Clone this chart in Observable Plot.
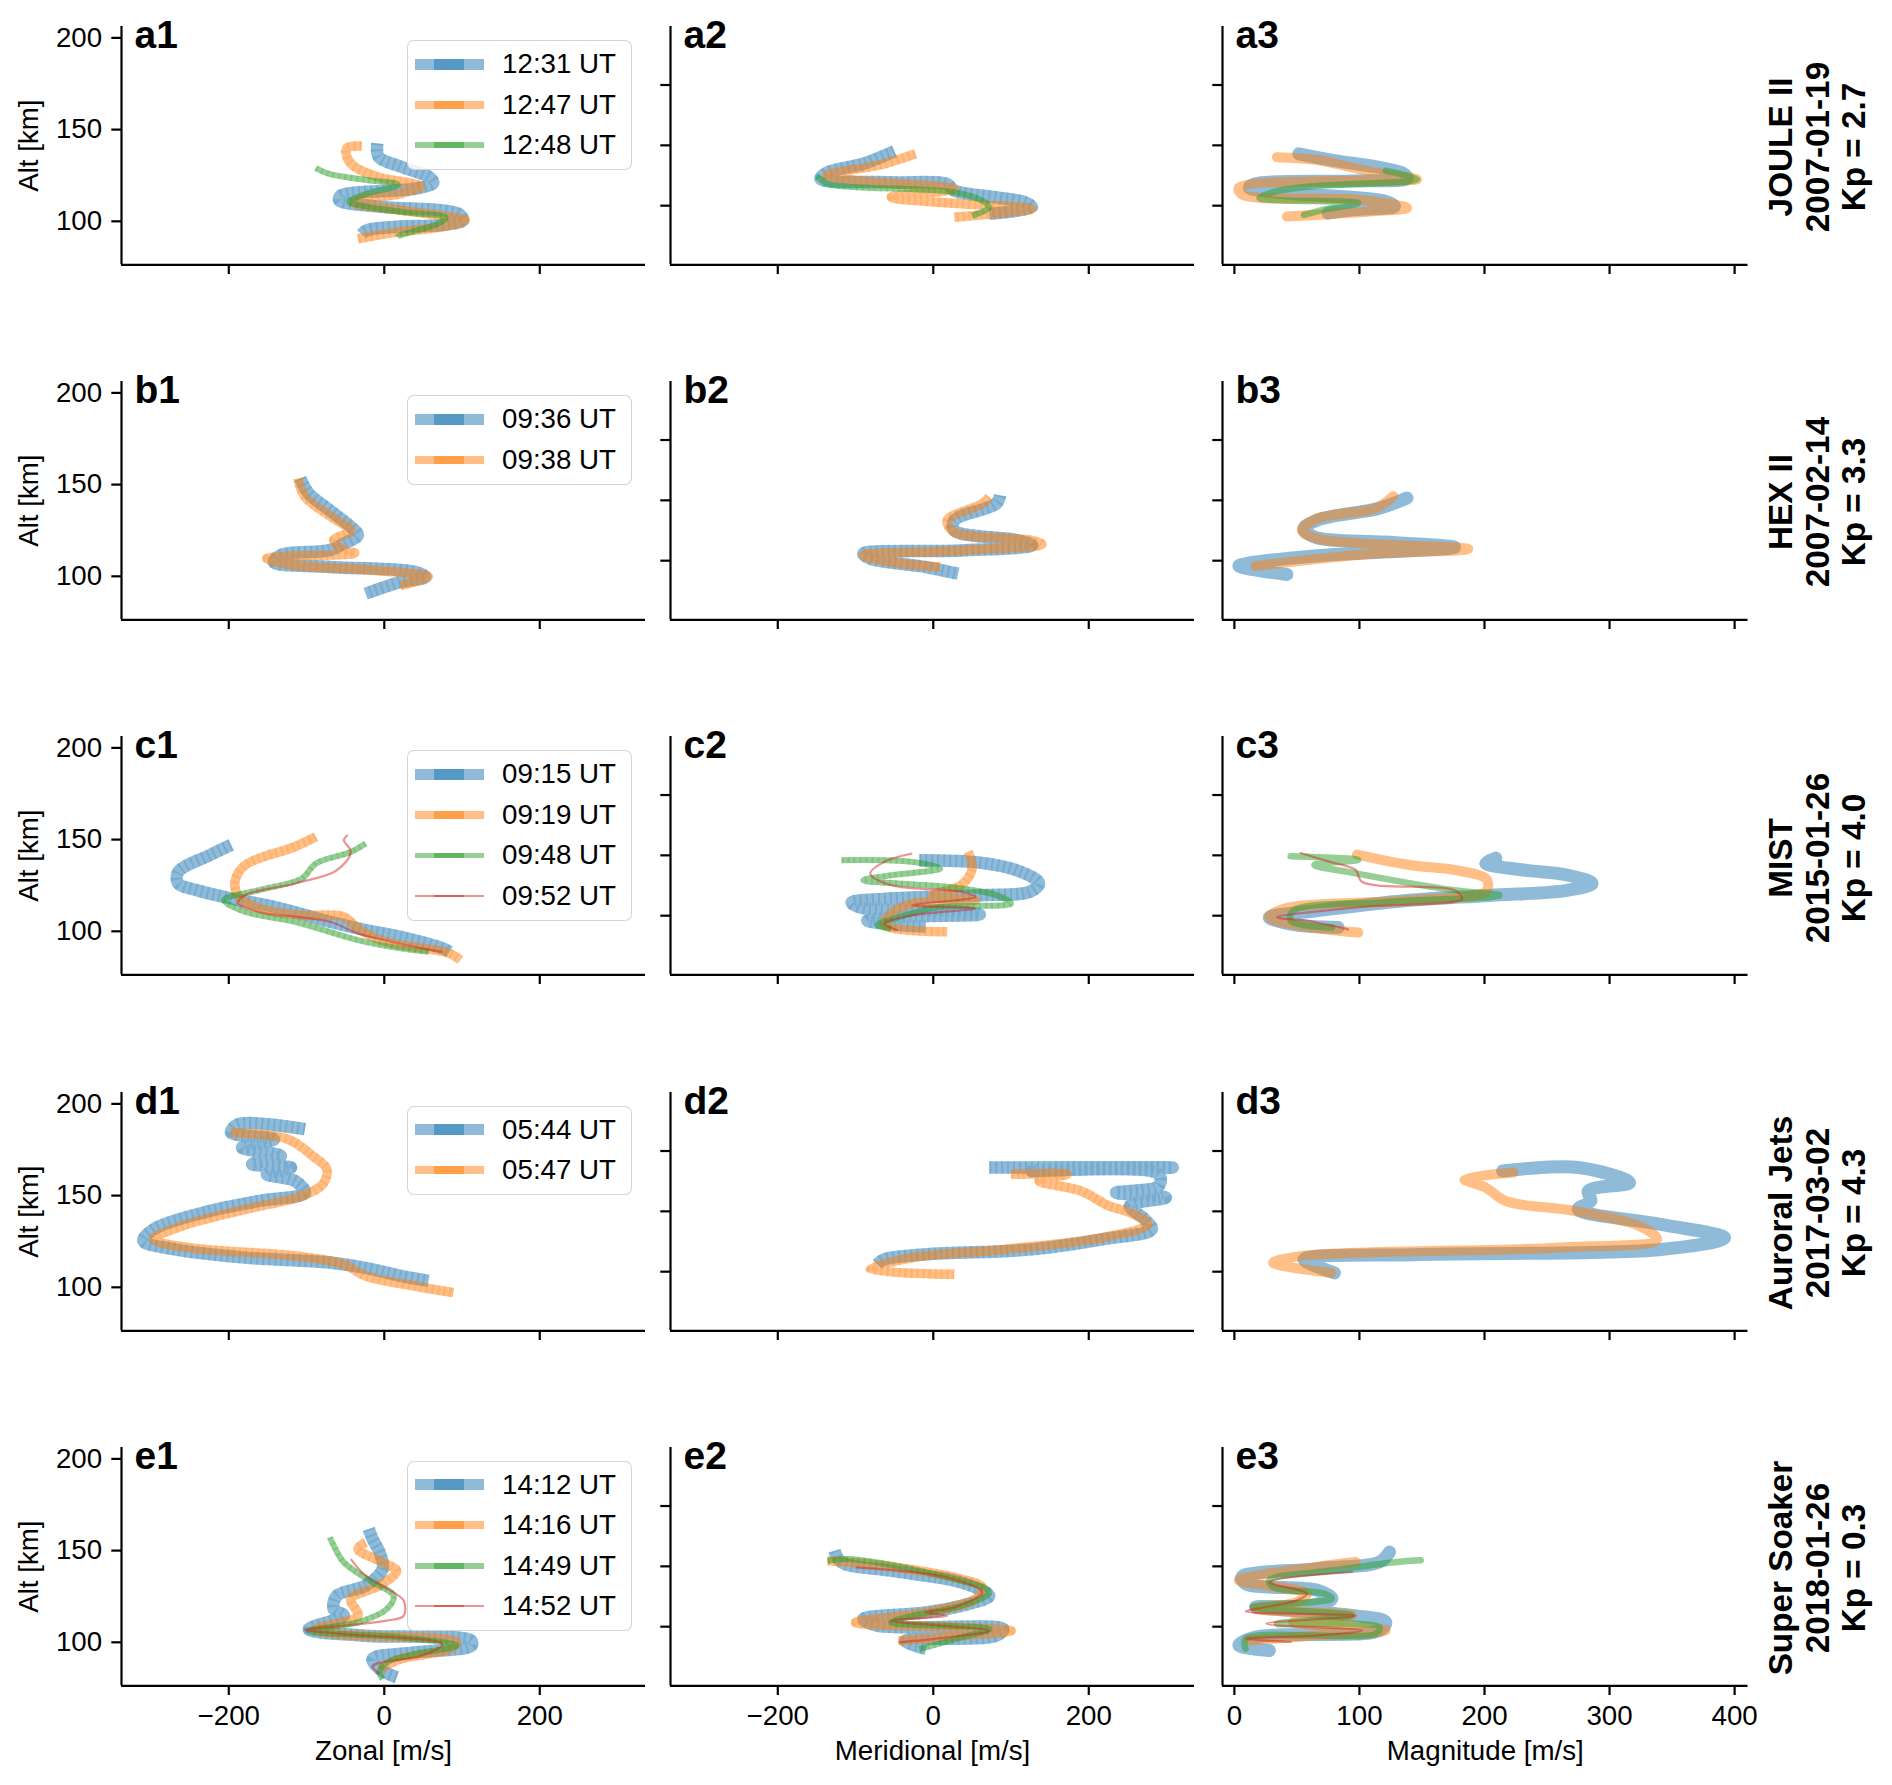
<!DOCTYPE html>
<html><head><meta charset="utf-8">
<script src="https://cdn.jsdelivr.net/npm/d3@7"></script>
<script src="https://cdn.jsdelivr.net/npm/@observablehq/plot@0.6"></script>
<style>
html,body{margin:0;padding:0;background:#fff;}
#fig{position:relative;width:1892px;height:1785px;overflow:hidden;font-family:"Liberation Sans",Arial,Helvetica,sans-serif;color:#000;background:#fff;}
.pnl{position:absolute;}
.pnl svg{display:block;max-width:none;overflow:visible;background:transparent;}
.leg{position:absolute;box-sizing:border-box;border:1.6px solid rgba(204,204,204,0.85);border-radius:7px;background:rgba(255,255,255,0.85);}
.leg .sw{position:absolute;}
.leg .lt{position:absolute;font-size:27.7px;line-height:28px;white-space:nowrap;}
.rl{position:absolute;font-weight:bold;font-size:33.3px;line-height:36.7px;text-align:center;white-space:nowrap;transform:translate(-50%,-50%) rotate(-90deg);}
</style></head><body><div id="fig"></div>
<script>
// ---------------- Row a : JOULE II ----------------
const a_1231_zonal = [-9,-7,20,58,63,42,-56,-58,-7,96,101,74,15,-23,-29];
const a_1231_zonalAlt = [142.5,135,130,124,121,118,114,111.5,108,104,100.5,98,97,95,93];
const a_1247_zonal = [-29,-48,-48,-39,-7,36,47,20,-34,-39,4,74,104,74,15,-34];
const a_1247_zonalAlt = [141,140,135,130,124,120.6,119,115,111.5,110,107,103,100.5,97,94,90.5];
const a_1248_zonal = [-88,-72,-23,15,17,-23,-45,-23,25,79,69,42,20,17];
const a_1248_zonalAlt = [129,126,122.5,120.6,119.7,115,110.6,108,105,102,98.7,95,92.3,91.4];
const a_1231_merid = [-50,-90,-136,-145,-54,18,27,80,118,127,72];
const a_1231_meridAlt = [145.1,134.7,127.7,122.2,119.4,118,112.5,107,102.8,98.7,93.2];
const a_1247_merid = [-23,-63,-136,-100,27,-54,36,127,27];
const a_1247_meridAlt = [143,134.7,125,120.8,113.9,107,101.5,97.4,90.4];
const a_1248_merid = [-150,-145,-136,27,63,72,50];
const a_1248_meridAlt = [124,122.2,118,111.1,104.2,98.7,91.8];
const a_1231_mag = [51.5,80,116,135,138,94,17,12,39,121,128,94,75];
const a_1231_magAlt = [143,137.4,131.7,126.7,122.7,120.5,118.2,114.9,110.7,103.6,99.4,96.6,93.8];
const a_1247_mag = [34,66.6,94,127,146,3.6,6,99,138,108,42];
const a_1247_magAlt = [140.2,137.9,131.7,124.7,121.9,114.9,109.3,105,98,95.2,91];
const a_1248_mag = [121,146,66.6,34,20,99,75,55.6];
const a_1248_magAlt = [128.9,121.9,116.3,112,106.4,102.2,97.5,92.4];

// ---------------- Row b : HEX II ----------------
const b_0936_zonal = [-108,-97,-70,-43,-34,-52,-70,-133,-142,-70,39,53,21,-24];
const b_0936_zonalAlt = [153.3,145.1,136,127,122.4,117.9,114.3,111.6,107.8,105.1,102.4,99.6,96.9,90.5];
const b_0938_zonal = [-111,-102,-61,-43,-65,-52,-38,-151,-116,-15,57,21];
const b_0938_zonalAlt = [153.3,143.3,130.5,125,119.6,114.3,112.6,109.7,106,103.3,99.6,95];
const b_0936_merid = [86,81,27,27,109,127,36,-90,-81,-9,32];
const b_0936_meridAlt = [154.1,147.3,133.4,125.1,116.8,112.7,108.5,105.8,101.7,94.7,89.2];
const b_0938_merid = [72,63,18,27,127,140,36,-90,-54,9];
const b_0938_meridAlt = [152.7,147.3,133.4,123.7,116.8,113.5,108.5,104.4,98.8,94.7];
const b_0936_mag = [138,116,66.6,55.6,64,121,176,116,66.6,3.6,42];
const b_0936_magAlt = [152,143.5,133.7,126.6,119.6,115.4,111.1,106.9,104.1,95.6,88.6];
const b_0938_mag = [127,113,66.6,54,66.6,187,108,17];
const b_0938_magAlt = [153.4,143.5,135,125.2,118.2,109.7,105.5,95.6];

// ---------------- Row c : MIST ----------------
const c_0915_zonal = [-197,-224,-265,-265,-242,-197,-142,-70,-24,21,75,84];
const c_0915_zonalAlt = [147.1,141.6,132.4,126.1,122.5,117.9,113.4,105.2,100.7,97,90.7,88.8];
const c_0919_zonal = [-88,-115,-179,-192,-188,-161,-106,-52,-34,2,84,98];
const c_0919_zonalAlt = [151.5,146.1,136.1,127,119.7,112.5,108.8,107.9,101.6,94.3,88,84.3];
const c_0948_zonal = [-24,-43,-88,-106,-161,-206,-179,-115,-34,21,57];
const c_0948_zonalAlt = [147.9,143.3,137,128.8,122.5,117,110.7,105.2,95.2,90.7,88.8];
const c_0952_zonal = [-47,-52,-43,-61,-115,-179,-188,-161,-70,-34,39,75];
const c_0952_zonalAlt = [152.5,149.7,143.3,133.3,126.1,119.7,115.2,110.7,105.2,98.9,91.5,88.8];
const c_0915_merid = [-18,60,110,136,125,60,-60,-105,-95,20,60,-40,-85,-60,-10];
const c_0915_meridAlt = [146,144,137,127,120,117,114,111,107,104,101,99,96,93,91];
const c_0919_merid = [45,50,36,0,54,-27,-54,-63,18];
const c_0919_meridAlt = [152.9,139.1,125.3,117,112.8,110.1,101.8,92.1,86.6];
const c_0948_merid = [-118,-27,9,-54,-90,18,81,100,9,-36,-72,-54];
const c_0948_meridAlt = [146,144.6,139.1,133.5,129.4,123.9,117,110.1,107.3,100.4,92.1,89.3];
const c_0952_merid = [-27,-63,-81,-54,36,54,-27,54,-27,-63,-45];
const c_0952_meridAlt = [151.5,144.6,134.9,125.3,119.7,115.6,108.7,105.9,100.4,93.5,87.9];
const c_0915_mag = [209,201,231,266,286,266,204,138,66.6,28,45,83];
const c_0915_magAlt = [147.8,143.5,137.9,133.7,126.7,121,116.8,112.6,104.2,98.6,93,90.1];
const c_0919_mag = [98,140,176,201,203,201,138,39,28,53,99];
const c_0919_magAlt = [150.6,142,137.9,130.9,125,119.7,112.6,105.6,98.6,91.6,86];
const c_0948_mag = [45,99,64,97,176,212,121,47,45,78];
const c_0948_magAlt = [149.2,146.3,142.1,135.1,121,116.8,111.2,104.2,95.8,90.1];
const c_0952_mag = [53,75,97,102,176,182,99,34,58,91];
const c_0952_magAlt = [152,145,137.9,128.1,121,114,107,98.6,95.8,88.7];

// ---------------- Row d : Auroral Jets ----------------
const d_0544_zonal = [-102,-188,-197,-142,-183,-133,-170,-120,-151,-115,-102,-161,-233,-297,-310,-269,-179,-70,-15,21,57];
const d_0544_zonalAlt = [186.2,188.9,184.4,180.7,176.2,171.6,167.1,165.3,161.6,158,151.6,147.1,140.7,131.6,125.3,120.7,116.2,113.5,109.8,106.2,103.5];
const d_0547_zonal = [-197,-124,-92,-74,-79,-106,-179,-260,-297,-251,-115,-52,-24,39,89];
const d_0547_zonalAlt = [184.4,180.7,171.6,164.4,156.2,149.8,142.5,133.4,126.2,121.6,117.1,112.5,106.2,100.7,97.1];
const d_0544_merid = [72,308,127,290,290,235,299,253,272,281,217,127,-9,-63,-72];
const d_0544_meridAlt = [186.3,186.3,183.5,180.7,171.1,165.5,161.4,154.5,143.4,135.1,126.8,118.5,114.4,110.3,106.1];
const d_0547_merid = [100,172,136,190,226,253,276,217,91,-27,-81,27];
const d_0547_meridAlt = [180.7,180.7,175.2,166.9,154.5,149,139.3,128.2,118.5,111.6,102,97.8];
const d_0544_mag = [214.5,275,316,283,285,275,341,392,341,149,55.6,80];
const d_0544_magAlt = [183.5,186.3,173.8,166.9,158.6,151.7,139.2,128.1,118.4,114.3,110.1,99];
const d_0547_mag = [223,184,201,217,272,324,338,258,53,31,77.5];
const d_0547_magAlt = [182.1,176.6,169.7,158.6,150.3,137.8,126.7,119.8,112.9,107.3,99];

// ---------------- Row e : Super Soaker ----------------
const e_1412_zonal = [-20,-15,-6,-2,-24,-61,-65,-52,-97,-24,112,112,39,-15,-6,16];
const e_1412_zonalAlt = [161.8,156.3,149,140,130.9,125.4,118.1,114.5,107.2,103.6,100.9,98.1,94.5,90.9,85.4,80.9];
const e_1416_zonal = [-24,-34,-2,16,-6,-43,-34,-88,-61,93,84,21,-6];
const e_1416_zonalAlt = [154.5,150.9,143.6,139,130.9,123.6,114.5,107.2,104.5,100,96.3,90.9,85.4];
const e_1449_zonal = [-70,-65,-52,-15,12,3,-34,-97,21,93,39,3,-6,-2];
const e_1449_zonalAlt = [157.2,152.7,143.6,132.7,125.4,118.1,110.9,106.3,102.7,98.1,93.6,89,83.6,80];
const e_1452_zonal = [-43,-24,12,25,25,3,-52,-102,-52,75,48,12,-15,-6];
const e_1452_zonalAlt = [145.4,136.3,127.2,122.7,114.5,111.8,109,106.9,104.5,99.1,92.7,90,87.2,82.7];
const e_1412_merid = [-127,-118,-54,36,72,36,-9,-90,-72,90,81,-36,-9];
const e_1412_meridAlt = [162.9,153.3,146.4,136.7,125.6,117.3,111.8,106.3,100.8,98,92.5,88.3,81.4];
const e_1416_merid = [-136,-63,36,63,54,-9,-100,36,100,36,-45];
const e_1416_meridAlt = [154.6,150.5,139.4,132.5,122.9,111.8,103.5,99.4,96.6,92.5,88.3];
const e_1449_merid = [-136,-109,-9,72,36,-27,-54,72,36,-18];
const e_1449_meridAlt = [154.6,156,145,128.4,117.3,109,103.5,98,91.1,81.4];
const e_1452_merid = [-100,18,63,27,-9,18,-54,72,18,-45];
const e_1452_meridAlt = [149.1,140.8,128.4,116,111.8,109,104.9,96.6,91.1,86.9];
const e_1412_mag = [124,116,66.6,6,9,66.6,78,61,17,94,121,116,17,3.6,28];
const e_1412_magAlt = [161.9,153.6,148.1,141.2,135.6,130.1,123.2,117.7,116.3,109.4,103.8,96.9,91.4,84.5,80.3];
const e_1416_mag = [97,64,3.6,25.5,58,50,17,94,47,121,66.6,12];
const e_1416_magAlt = [153.6,149.4,138.4,134.2,127.3,120.4,114.9,109.4,103.8,96.9,92.8,88.6];
const e_1449_mag = [149,130,80,28,31,72,78,14.5,94,34,116,113,9,9];
const e_1449_magAlt = [155,153.6,146.7,138.4,132.9,127.3,123.2,116.3,109.4,102.4,99.7,94.2,90,81.7];
const e_1452_mag = [94,28,58,50,25.5,9,97,25.5,102,66.6,9,45];
const e_1452_magAlt = [145.3,137,127.3,121.8,116.3,112.7,109,102.4,96.9,92.8,90,87.3];

// ---------------- labels ----------------
const rowLetters = ["a","b","c","d","e"];
const missions = ["JOULE II","HEX II","MIST","Auroral Jets","Super Soaker"];
const dates = ["2007-01-19","2007-02-14","2015-01-26","2017-03-02","2018-01-26"];
const kps = ["Kp = 2.7","Kp = 3.3","Kp = 4.0","Kp = 4.3","Kp = 0.3"];
const times = [
  ["12:31 UT","12:47 UT","12:48 UT"],
  ["09:36 UT","09:38 UT"],
  ["09:15 UT","09:19 UT","09:48 UT","09:52 UT"],
  ["05:44 UT","05:47 UT"],
  ["14:12 UT","14:16 UT","14:49 UT","14:52 UT"]
];
const xLabels = ["Zonal [m/s]","Meridional [m/s]","Magnitude [m/s]"];
const yLabel = "Alt [km]";
const xTicksVel = [-200,0,200];
const xTicksMag = [0,100,200,300,400];
const yTicks = [100,150,200];

// panel series: [values, altitudes] per column
const panels = [
  [
    [[a_1231_zonal,a_1231_zonalAlt],[a_1247_zonal,a_1247_zonalAlt],[a_1248_zonal,a_1248_zonalAlt]],
    [[a_1231_merid,a_1231_meridAlt],[a_1247_merid,a_1247_meridAlt],[a_1248_merid,a_1248_meridAlt]],
    [[a_1231_mag,a_1231_magAlt],[a_1247_mag,a_1247_magAlt],[a_1248_mag,a_1248_magAlt]]
  ],
  [
    [[b_0936_zonal,b_0936_zonalAlt],[b_0938_zonal,b_0938_zonalAlt]],
    [[b_0936_merid,b_0936_meridAlt],[b_0938_merid,b_0938_meridAlt]],
    [[b_0936_mag,b_0936_magAlt],[b_0938_mag,b_0938_magAlt]]
  ],
  [
    [[c_0915_zonal,c_0915_zonalAlt],[c_0919_zonal,c_0919_zonalAlt],[c_0948_zonal,c_0948_zonalAlt],[c_0952_zonal,c_0952_zonalAlt]],
    [[c_0915_merid,c_0915_meridAlt],[c_0919_merid,c_0919_meridAlt],[c_0948_merid,c_0948_meridAlt],[c_0952_merid,c_0952_meridAlt]],
    [[c_0915_mag,c_0915_magAlt],[c_0919_mag,c_0919_magAlt],[c_0948_mag,c_0948_magAlt],[c_0952_mag,c_0952_magAlt]]
  ],
  [
    [[d_0544_zonal,d_0544_zonalAlt],[d_0547_zonal,d_0547_zonalAlt]],
    [[d_0544_merid,d_0544_meridAlt],[d_0547_merid,d_0547_meridAlt]],
    [[d_0544_mag,d_0544_magAlt],[d_0547_mag,d_0547_magAlt]]
  ],
  [
    [[e_1412_zonal,e_1412_zonalAlt],[e_1416_zonal,e_1416_zonalAlt],[e_1449_zonal,e_1449_zonalAlt],[e_1452_zonal,e_1452_zonalAlt]],
    [[e_1412_merid,e_1412_meridAlt],[e_1416_merid,e_1416_meridAlt],[e_1449_merid,e_1449_meridAlt],[e_1452_merid,e_1452_meridAlt]],
    [[e_1412_mag,e_1412_magAlt],[e_1416_mag,e_1416_magAlt],[e_1449_mag,e_1449_magAlt],[e_1452_mag,e_1452_magAlt]]
  ]
];

// ---------------- layout / style ----------------
const COLORS = ["#1f77b4","#ff7f0e","#2ca02c","#d62728"];
const LW_VEL = [12.5,9.5,6,2.2];
const LW_MAG = [13,10,6.5,2.2];
const SW_H = [11,8,5.5,2.2];
const FRAME_X = [121, 669.5, 1222];
const FRAME_W = [524, 524, 525.5];
const FRAME_H = 238.3;
const ROW_Y0 = 26, ROW_STEP = 355.2;
const X_DOM = [[-338,336],[-338,336],[-9.5,410.7]];
const Y_DOM = [[76.3,206.2],[51,248.5],[51,248.5]];
const ML = 115, MR = 10, MT = 20, MB = 92;
const FONT = '"Liberation Sans", Arial, Helvetica, sans-serif';
const fmt = d => d < 0 ? "\u2212" + Math.abs(d) : String(d);

const fig = document.getElementById("fig");

for (let r = 0; r < 5; r++) {
  const top = ROW_Y0 + r * ROW_STEP;
  const isBottom = r === 4;
  for (let c = 0; c < 3; c++) {
    const marks = [];
    panels[r][c].forEach(([vals, alts], k) => {
      const data = vals.map((v, i) => ({v, alt: alts[i]}));
      if (c < 2) {
        marks.push(Plot.line(data, {x: "v", y: "alt", stroke: COLORS[k], strokeWidth: LW_VEL[k], strokeOpacity: 0.5, curve: "catmull-rom", strokeLinejoin: "round", strokeLinecap: "butt"}));
        if (k < 3) marks.push(Plot.line(data, {x: "v", y: "alt", stroke: COLORS[k], strokeWidth: LW_VEL[k], strokeOpacity: 0.22, curve: "catmull-rom", strokeLinecap: "butt", strokeDasharray: "2,4"}));
      } else {
        marks.push(Plot.line(data, {x: "v", y: "alt", stroke: COLORS[k], strokeWidth: LW_MAG[k], strokeOpacity: 0.5, curve: "catmull-rom", strokeLinejoin: "round", strokeLinecap: "round"}));
      }
    });
    marks.push(Plot.ruleX([X_DOM[c][0]], {stroke: "#000", strokeWidth: 2.2}));
    marks.push(Plot.ruleY([Y_DOM[c][0]], {stroke: "#000", strokeWidth: 2.2}));
    marks.push(Plot.axisX({ticks: c === 2 ? xTicksMag : xTicksVel, tickSize: 9.7, tickPadding: 9.7, strokeWidth: 2.2, fontSize: 27.7, tickFormat: isBottom ? fmt : () => "", label: null}));
    marks.push(Plot.axisY({ticks: yTicks, tickSize: 9.7, tickPadding: 9.7, strokeWidth: 2.2, fontSize: 27.7, tickFormat: c === 0 ? fmt : () => "", label: null}));
    marks.push(Plot.text([rowLetters[r] + (c + 1)], {text: d => d, frameAnchor: "top-left", textAnchor: "start", lineAnchor: "bottom", dx: 13, dy: 22, fontWeight: "bold", fontSize: 39}));
    if (c === 0) marks.push(Plot.text([yLabel], {text: d => d, frameAnchor: "left", dx: -92, rotate: -90, textAnchor: "middle", lineAnchor: "middle", fontSize: 27.7}));
    if (isBottom) marks.push(Plot.text([xLabels[c]], {text: d => d, frameAnchor: "bottom", dy: 74, textAnchor: "middle", lineAnchor: "bottom", fontSize: 27.7}));

    const svg = Plot.plot({
      width: ML + FRAME_W[c] + MR,
      height: MT + FRAME_H + MB,
      marginLeft: ML, marginRight: MR, marginTop: MT, marginBottom: MB,
      style: {fontFamily: FONT, fontSize: "27.7px", color: "#000", background: "transparent", overflow: "visible"},
      x: {domain: X_DOM[c]},
      y: {domain: Y_DOM[c]},
      marks
    });
    const div = document.createElement("div");
    div.className = "pnl";
    div.style.left = (FRAME_X[c] - ML) + "px";
    div.style.top = (top - MT) + "px";
    div.style.width = (ML + FRAME_W[c] + MR) + "px";
    div.appendChild(svg);
    fig.appendChild(div);
  }

  // legend (HTML)
  const n = times[r].length;
  const leg = document.createElement("div");
  leg.className = "leg";
  const legW = 225, legH = 40.5 * (n - 1) + 49;
  leg.style.left = (FRAME_X[0] + FRAME_W[0] - 12.9 - legW) + "px";
  leg.style.top = (top + 14) + "px";
  leg.style.width = legW + "px";
  leg.style.height = legH + "px";
  times[r].forEach((t, k) => {
    const cy = 23 + 40.5 * k;
    const h = SW_H[k];
    const sw = document.createElement("div");
    sw.className = "sw";
    sw.style.left = "7px"; sw.style.width = "69px";
    sw.style.top = (cy - h / 2) + "px"; sw.style.height = h + "px";
    sw.style.background = COLORS[k]; sw.style.opacity = 0.5;
    leg.appendChild(sw);
    const sw2 = document.createElement("div");
    sw2.className = "sw";
    sw2.style.left = "26px"; sw2.style.width = "30px";
    sw2.style.top = (cy - h / 2) + "px"; sw2.style.height = h + "px";
    sw2.style.background = COLORS[k]; sw2.style.opacity = 0.5;
    leg.appendChild(sw2);
    const lt = document.createElement("div");
    lt.className = "lt";
    lt.style.left = "94px";
    lt.style.top = (cy - 14) + "px";
    lt.textContent = t;
    leg.appendChild(lt);
  });
  fig.appendChild(leg);

  // right-hand rotated row label
  const rl = document.createElement("div");
  rl.className = "rl";
  rl.style.left = "1818px";
  rl.style.top = (top + FRAME_H / 2 + 2) + "px";
  rl.innerHTML = missions[r] + "<br>" + dates[r] + "<br>" + kps[r];
  fig.appendChild(rl);
}
</script></body></html>
